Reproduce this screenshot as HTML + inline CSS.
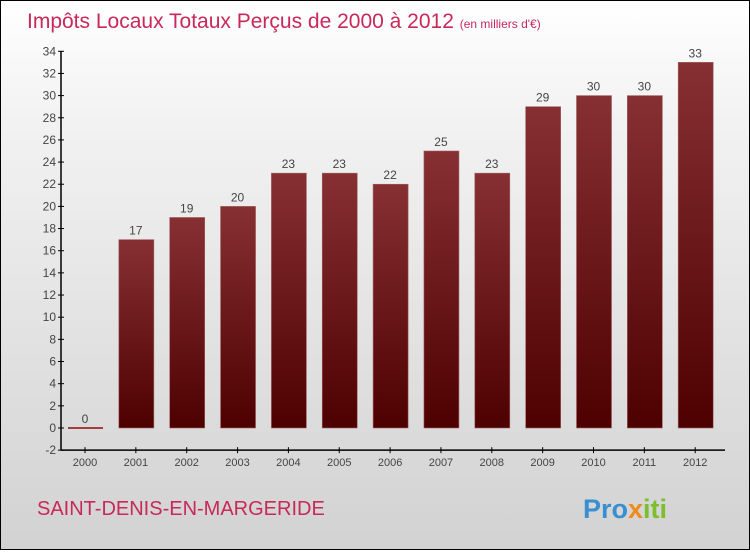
<!DOCTYPE html>
<html><head><meta charset="utf-8"><style>
html,body{margin:0;padding:0}
body{width:750px;height:550px;overflow:hidden;font-family:"Liberation Sans",sans-serif}
#wrap{position:relative;width:748px;height:548px;border:1px solid #000;background:linear-gradient(#ffffff,#f3f3f3 20%,#d2d2d2)}
</style></head><body>
<div id="wrap">
<svg id="chart" width="748" height="548">
<defs><linearGradient id="bg" x1="0" y1="0" x2="0" y2="1"><stop offset="0" stop-color="#873033"/><stop offset="1" stop-color="#4e0000"/></linearGradient></defs>
<text x="26" y="27" font-size="21" fill="#c8285a">Impôts Locaux Totaux Perçus de 2000 à 2012 <tspan font-size="12" fill="#c8285a">(en milliers d'€)</tspan></text>
<text x="36" y="514" font-size="20" fill="#c8285a">SAINT-DENIS-EN-MARGERIDE</text>
<text x="582" y="517" font-size="27" font-weight="bold"><tspan fill="#3a8fd0">Pro</tspan><tspan fill="#f08a1c">x</tspan><tspan fill="#7cbf2a">iti</tspan></text>
<g id="axes"></g><g id="bars"></g>
</svg>
</div>
<script>
const years=["2000","2001","2002","2003","2004","2005","2006","2007","2008","2009","2010","2011","2012"];
const values=[0,17,19,20,23,23,22,25,23,29,30,30,33];
const yTicks=[-2,0,2,4,6,8,10,12,14,16,18,20,22,24,26,28,30,32,34];
const NS="http://www.w3.org/2000/svg";
const y=v=>427-(v)*11.08;
const x=i=>84+i*50.85;
const ax=document.getElementById('axes'),bg=document.getElementById('bars');
function mk(t,a,p){const e=document.createElementNS(NS,t);for(const k in a)e.setAttribute(k,a[k]);p.appendChild(e);return e;}
const yl=mk('line',{x1:60,y1:y(34),x2:60,y2:y(-2),stroke:'#000','stroke-width':1.5},ax);


const xl=mk('line',{x1:60,y1:y(-2),x2:724,y2:y(-2),stroke:'#000','stroke-width':1.5},ax);


yTicks.forEach(v=>{
  mk('line',{x1:57,x2:63,y1:y(v),y2:y(v),stroke:'#000'},ax);
  const t=mk('text',{x:55,y:y(v)+4,'font-size':12,fill:'#444','text-anchor':'end'},ax);
  t.textContent=v;
  
  
});
years.forEach((yr,i)=>{
  mk('line',{x1:x(i),x2:x(i),y1:y(-2)-3,y2:y(-2)+3,stroke:'#000'},ax);
  const t=mk('text',{x:x(i),y:y(-2)+16,'font-size':11,fill:'#444','text-anchor':'middle'},ax);
  t.textContent=yr;
  
  
  const v=values[i];
  let r;
  if(v===0){r=mk('rect',{x:x(i)-17,y:y(0)-1,width:35,height:2,fill:'#a04040'},bg);}
  else{r=mk('rect',{x:x(i)-17,y:y(v),width:35,height:y(0)-y(v),fill:'url(#bg)',stroke:'#a06060','stroke-width':0.6},bg);}
  
  
  const l=mk('text',{x:x(i),y:y(v)-5,'font-size':12,fill:'#444','text-anchor':'middle'},bg);
  l.textContent=v;
  
  
});
</script>
</body></html>
